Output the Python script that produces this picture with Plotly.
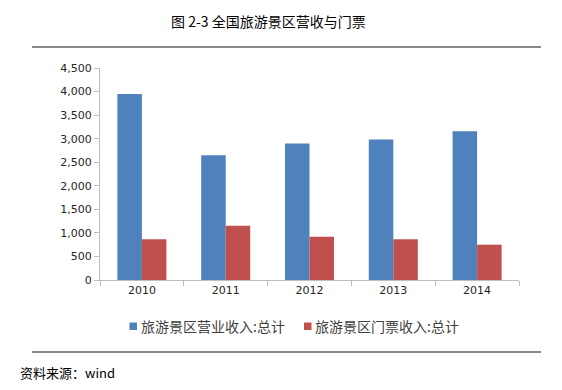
import plotly.graph_objects as go

years = ["2010", "2011", "2012", "2013", "2014"]
revenue = [3950, 2650, 2895, 2980, 3158]
tickets = [865, 1150, 920, 865, 750]
series_names = ["旅游景区营业收入:总计", "旅游景区门票收入:总计"]
colors = ["#4F81BD", "#C0504D"]
y_ticks = [0, 500, 1000, 1500, 2000, 2500, 3000, 3500, 4000, 4500]

W, H = 562, 390
L, R, T, B = 100, 43, 68, 110
PW, PH = W - L - R, H - T - B


def px(x):
    return (x - L) / PW


def py(y):
    return (H - B - y) / PH


fig = go.Figure()
for name, vals, col in zip(series_names, [revenue, tickets], colors):
    fig.add_trace(go.Bar(x=years, y=vals, name=name, showlegend=False,
                         marker=dict(color=col, line=dict(width=0))))

shapes = [
    dict(type="line", xref="paper", yref="paper", x0=px(32), x1=px(541),
         y0=py(47), y1=py(47), line=dict(color="#888888", width=2)),
    dict(type="line", xref="paper", yref="paper", x0=px(32), x1=px(541),
         y0=py(352), y1=py(352), line=dict(color="#888888", width=2)),
]
annotations = [
    dict(text="图 2-3 全国旅游景区营收与门票",
         xref="paper", yref="paper", x=px(268), y=py(21),
         xanchor="center", yanchor="middle", showarrow=False,
         font=dict(family="Noto Sans CJK SC", size=14, color="#000000")),
    dict(text="资料来源：wind", xref="paper", yref="paper",
         x=px(18), y=py(372), xanchor="left", yanchor="middle",
         showarrow=False,
         font=dict(family="Noto Sans CJK SC", size=13, color="#000000")),
]

# manual legend
leg_x = [129.5, 304]
for name, col, lx in zip(series_names, colors, leg_x):
    shapes.append(dict(type="rect", xref="paper", yref="paper",
                       x0=px(lx), x1=px(lx + 7.5), y0=py(322.5), y1=py(330),
                       fillcolor=col, line=dict(width=0)))
    annotations.append(dict(text=name, xref="paper", yref="paper",
                            x=px(lx + 9), y=py(325.5), xanchor="left", yanchor="middle",
                            showarrow=False,
                            font=dict(family="Noto Sans CJK SC", size=14, color="#404040")))

fig.update_layout(
    width=W, height=H,
    margin=dict(l=L, r=R, t=T, b=B, autoexpand=False),
    paper_bgcolor="white", plot_bgcolor="white",
    barmode="group", bargap=0.415, bargroupgap=0,
    showlegend=False,
    xaxis=dict(type="category", showline=True, linecolor="#BFBFBF", linewidth=1,
               ticks="outside", tickson="boundaries", ticklen=5, tickcolor="#BFBFBF",
               tickfont=dict(family="DejaVu Sans", size=11, color="#262626"),
               showgrid=False),
    yaxis=dict(range=[0, 4500], tickvals=y_ticks, tickformat=",d",
               showline=True, linecolor="#BFBFBF", linewidth=1,
               ticks="outside", ticklen=5, tickcolor="#BFBFBF",
               tickfont=dict(family="DejaVu Sans", size=11, color="#262626"),
               showgrid=False, zeroline=False),
    shapes=shapes,
    annotations=annotations,
)

fig.write_html("out.html", config={"displayModeBar": False},
               post_script="document.body.style.margin='0px';document.body.style.overflow='hidden';")
